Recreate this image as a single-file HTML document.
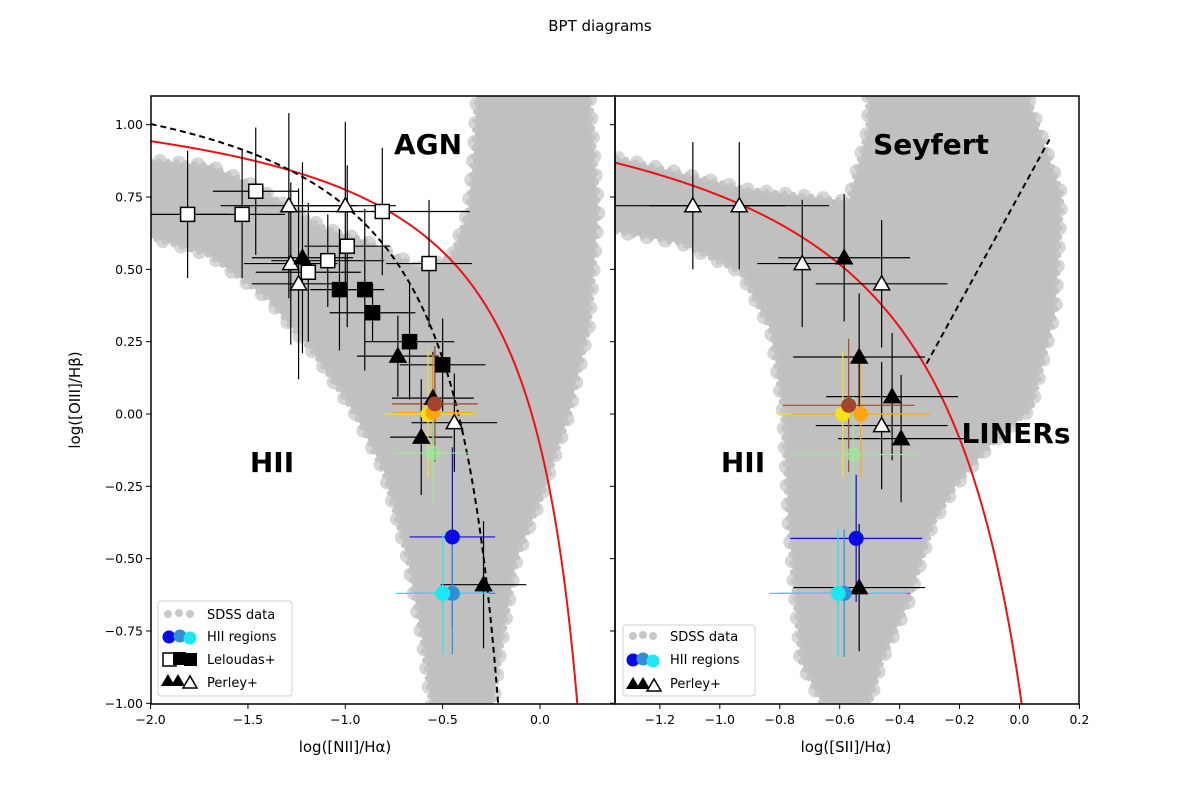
<!DOCTYPE html>
<html><head><meta charset="utf-8"><style>
html,body{margin:0;padding:0;background:#fff}
svg{display:block;font-family:"DejaVu Sans","Liberation Sans",sans-serif}
</style></head><body>
<svg id="fig" width="1200" height="790" viewBox="0 0 1200 790" xmlns="http://www.w3.org/2000/svg" style="position:absolute;left:0;top:0">
<defs>
<clipPath id="clipL"><rect x="151" y="96" width="464" height="608"/></clipPath>
<clipPath id="clipR"><rect x="615" y="96" width="464" height="608"/></clipPath>
</defs>
<text x="600" y="31" font-size="15" text-anchor="middle">BPT diagrams</text>
<g id="gL" clip-path="url(#clipL)"></g>
<g id="gR" clip-path="url(#clipR)"></g>
<g id="axes"></g>
</svg>
<script>
// ---------- data ----------
const yTicks = [1.00, 0.75, 0.50, 0.25, 0.00, -0.25, -0.50, -0.75, -1.00];
const yTickLabels = ["1.00","0.75","0.50","0.25","0.00","−0.25","−0.50","−0.75","−1.00"];
const lxTicks = [-2.0, -1.5, -1.0, -0.5, 0.0];
const lxTickLabels = ["−2.0","−1.5","−1.0","−0.5","0.0"];
const rxTicks = [-1.2, -1.0, -0.8, -0.6, -0.4, -0.2, 0.0, 0.2];
const rxTickLabels = ["−1.2","−1.0","−0.8","−0.6","−0.4","−0.2","0.0","0.2"];

// SDSS cloud outlines (data coords)
const cloudLX = [-2.05,-1.7,-1.5,-1.3,-1.1,-0.9,-0.75,-0.6,-0.45,-0.37,-0.34,-0.32,0.25,0.3,0.25,0.15,0.0,-0.12,-0.2,-0.25,-0.55,-0.6,-0.68,-0.8,-0.95,-1.15,-1.4,-1.7,-2.05];
const cloudLY = [0.88,0.86,0.8,0.72,0.64,0.6,0.55,0.5,0.55,0.7,0.9,1.15,1.15,0.7,0.3,0.0,-0.3,-0.5,-0.8,-1.05,-1.05,-0.8,-0.5,-0.2,0.0,0.2,0.4,0.55,0.62];
const cloudRX = [-1.4,-0.906,-0.57,-0.505,-0.505,0.01,0.14,0.12,0.04,-0.105,-0.215,-0.29,-0.37,-0.46,-0.5,-0.66,-0.73,-0.77,-0.79,-0.83,-0.93,-1.13,-1.4];
const cloudRY = [0.9,0.776,0.736,0.99,1.15,1.15,0.76,0.36,0.02,-0.115,-0.25,-0.38,-0.65,-0.855,-1.0,-1.0,-0.855,-0.38,0.02,0.29,0.49,0.59,0.64];

// Left panel series
const lOpenSqX = [-1.81,-1.53,-1.46,-0.81,-0.99,-1.09,-1.19,-0.57];
const lOpenSqY = [0.69,0.69,0.77,0.70,0.58,0.53,0.49,0.52];
const lOpenSqXe = [0.21,0.22,0.22,0.45,0.22,0.29,0.27,0.22];
const lOpenSqYe = [0.22,0.22,0.22,0.22,0.28,0.16,0.24,0.22];
const lFillSqX = [-1.03,-0.90,-0.86,-0.67,-0.50];
const lFillSqY = [0.43,0.43,0.35,0.25,0.17];
const lFillSqXe = [0.15,0.10,0.22,0.23,0.22];
const lFillSqYe = [0.21,0.28,0.10,0.20,0.16];
const lOpenTriX = [-1.29,-1.00,-1.28,-1.24,-0.44];
const lOpenTriY = [0.72,0.72,0.52,0.45,-0.03];
const lOpenTriXe = [0.35,0.26,0.24,0.24,0.22];
const lOpenTriYe = [0.32,0.29,0.28,0.33,0.17];
const lFillTriX = [-1.22,-0.73,-0.55,-0.61,-0.29];
const lFillTriY = [0.54,0.20,0.055,-0.08,-0.59];
const lFillTriXe = [0.26,0.21,0.21,0.16,0.22];
const lFillTriYe = [0.33,0.14,0.16,0.20,0.22];
const hiiColors = ["#0a0ae6","#2e8fd6","#1de8f2","#f7e01a","#ffa514","#a2452a","#9be89b"];
const lHiiX = [-0.45,-0.45,-0.50,-0.575,-0.55,-0.54,-0.55];
const lHiiY = [-0.425,-0.62,-0.62,0.0,0.005,0.035,-0.135];
const lHiiXe = [0.22,0.22,0.24,0.23,0.21,0.22,0.20];
const lHiiYe = [0.31,0.21,0.21,0.22,0.20,0.20,0.17];

// Right panel series
const rOpenTriX = [-1.09,-0.935,-0.725,-0.46,-0.46];
const rOpenTriY = [0.72,0.72,0.52,0.45,-0.04];
const rOpenTriXe = [0.31,0.30,0.15,0.22,0.22];
const rOpenTriYe = [0.22,0.22,0.22,0.22,0.22];
const rFillTriX = [-0.585,-0.535,-0.425,-0.395,-0.535];
const rFillTriY = [0.54,0.197,0.06,-0.085,-0.60];
const rFillTriXe = [0.22,0.22,0.22,0.21,0.22];
const rFillTriYe = [0.22,0.22,0.22,0.22,0.22];
const rHiiX = [-0.545,-0.585,-0.605,-0.59,-0.53,-0.57,-0.555];
const rHiiY = [-0.43,-0.62,-0.62,0.0,0.0,0.03,-0.14];
const rHiiXe = [0.22,0.22,0.23,0.22,0.23,0.22,0.22];
const rHiiYe = [0.22,0.22,0.22,0.22,0.22,0.23,0.20];

// ---------- axes functions ----------
const NS = "http://www.w3.org/2000/svg";
const lx = v => 540 + v * 194.7;
const rx = v => 1019.5 + v * 299.7;
const sy = v => 414 - v * 289.3;

function mk(tag, attrs, parent) {
  const e = document.createElementNS(NS, tag);
  for (const k in attrs) e.setAttribute(k, attrs[k]);
  parent.appendChild(e);
  return e;
}
const gL = document.getElementById('gL');
const gR = document.getElementById('gR');
const axes = document.getElementById('axes');

function cloud(g, X, Y, fx) {
  const pts = X.map((x, i) => fx(x).toFixed(1) + "," + sy(Y[i]).toFixed(1)).join(" ");
  const h = mk('polygon', {points: pts, fill: "none", stroke: "#d6d6d6", "stroke-width": 14, "stroke-linejoin": "round", "stroke-dasharray": "0 19", "stroke-linecap": "round", transform: "translate(0,0)"}, g);
  
  
  const p = mk('polygon', {points: pts, fill: "#c0c0c0", stroke: "#c4c4c4", "stroke-width": 6, "stroke-linejoin": "round", "stroke-dasharray": "0 9", "stroke-linecap": "round"}, g);
  
  
}
cloud(gL, cloudLX, cloudLY, lx);
cloud(gR, cloudRX, cloudRY, rx);

function curve(g, f, x0, x1, fx, color, dash, name) {
  let d = "";
  const n = 400;
  for (let i = 0; i <= n; i++) {
    const x = x0 + (x1 - x0) * i / n;
    const y = f(x);
    if (y < -1.05 || !isFinite(y)) break;
    d += (d ? "L" : "M") + fx(x).toFixed(2) + "," + sy(y).toFixed(2);
  }
  const p = mk('path', {d: d, fill: "none", stroke: color, "stroke-width": 2, "stroke-dasharray": dash || "none"}, g);
  
  
}
curve(gL, x => 0.61 / (x - 0.47) + 1.19, -2.05, 0.46, lx, "#ee1111", null, "kewley-line");
curve(gL, x => 0.61 / (x - 0.05) + 1.30, -2.05, 0.04, lx, "#000", "6,4", "kauffmann-line");
curve(gR, x => 0.72 / (x - 0.32) + 1.30, -1.4, 0.31, rx, "#ee1111", null, "kewley-sii-line");
curve(gR, x => 1.89 * x + 0.76, -0.31, 0.1, rx, "#000", "6,4", "seyfert-liner-line");

function errs(g, X, Y, XE, YE, fx, colors, name) {
  X.forEach((x, i) => {
    const c = Array.isArray(colors) ? colors[i] : colors;
    const h = mk('line', {x1: fx(x - XE[i]), x2: fx(x + XE[i]), y1: sy(Y[i]), y2: sy(Y[i]), stroke: c, "stroke-width": 1.2}, g);
    
    
    const v = mk('line', {x1: fx(x), x2: fx(x), y1: sy(Y[i] - YE[i]), y2: sy(Y[i] + YE[i]), stroke: c, "stroke-width": 1.2}, g);
    
    
  });
}
function squares(g, X, Y, fx, fill, name) {
  X.forEach((x, i) => {
    const r = mk('rect', {x: fx(x) - 7, y: sy(Y[i]) - 7, width: 14, height: 14, fill: fill, stroke: "#000", "stroke-width": 1.5}, g);
    
    
  });
}
function tris(g, X, Y, fx, fill, name) {
  X.forEach((x, i) => {
    const cx = fx(x), cy = sy(Y[i]);
    const t = mk('polygon', {points: `${cx},${cy-8} ${cx-8},${cy+6} ${cx+8},${cy+6}`, fill: fill, stroke: "#000", "stroke-width": 1.5, "stroke-linejoin": "miter"}, g);
    
    
  });
}
function circles(g, X, Y, fx, name) {
  X.forEach((x, i) => {
    const c = mk('circle', {cx: fx(x), cy: sy(Y[i]), r: 7.5, fill: hiiColors[i], "fill-opacity": i === 6 ? 0.7 : 1}, g);
    
    
  });
}

// left panel
errs(gL, lOpenSqX, lOpenSqY, lOpenSqXe, lOpenSqYe, lx, "#000", "leloudas-open");
errs(gL, lFillSqX, lFillSqY, lFillSqXe, lFillSqYe, lx, "#000", "leloudas-filled");
errs(gL, lOpenTriX, lOpenTriY, lOpenTriXe, lOpenTriYe, lx, "#000", "perley-open");
errs(gL, lFillTriX, lFillTriY, lFillTriXe, lFillTriYe, lx, "#000", "perley-filled");
errs(gL, lHiiX, lHiiY, lHiiXe, lHiiYe, lx, hiiColors, "hii-region");
squares(gL, lOpenSqX, lOpenSqY, lx, "#fff", "leloudas-open-square");
squares(gL, lFillSqX, lFillSqY, lx, "#000", "leloudas-filled-square");
tris(gL, lOpenTriX, lOpenTriY, lx, "#fff", "perley-open-triangle");
tris(gL, lFillTriX, lFillTriY, lx, "#000", "perley-filled-triangle");
circles(gL, lHiiX, lHiiY, lx, "hii-region-point");

// right panel
errs(gR, rOpenTriX, rOpenTriY, rOpenTriXe, rOpenTriYe, rx, "#000", "perley-open");
errs(gR, rFillTriX, rFillTriY, rFillTriXe, rFillTriYe, rx, "#000", "perley-filled");
errs(gR, rHiiX, rHiiY, rHiiXe, rHiiYe, rx, hiiColors, "hii-region");
tris(gR, rOpenTriX, rOpenTriY, rx, "#fff", "perley-open-triangle");
tris(gR, rFillTriX, rFillTriY, rx, "#000", "perley-filled-triangle");
circles(gR, rHiiX, rHiiY, rx, "hii-region-point");

// frames
[[151, "left-plot-frame"], [615, "right-plot-frame"]].forEach(([x0, nm]) => {
  const r = mk('rect', {x: x0, y: 96, width: 464, height: 608, fill: "none", stroke: "#000", "stroke-width": 1.5}, axes);
  
  
});

// y ticks
yTicks.forEach((v, i) => {
  const t = mk('line', {x1: 146, x2: 151, y1: sy(v), y2: sy(v), stroke: "#000", "stroke-width": 1}, axes);
  
  
  const t2 = mk('line', {x1: 610, x2: 615, y1: sy(v), y2: sy(v), stroke: "#000", "stroke-width": 1}, axes);
  
  
  const l = mk('text', {x: 143, y: sy(v) + 4.5, "font-size": 12.5, "text-anchor": "end"}, axes);
  l.textContent = yTickLabels[i];
  
  
});
function xticks(T, L, fx, name) {
  T.forEach((v, i) => {
    const t = mk('line', {x1: fx(v), x2: fx(v), y1: 704, y2: 709, stroke: "#000", "stroke-width": 1}, axes);
    
    
    const l = mk('text', {x: fx(v), y: 724, "font-size": 12.5, "text-anchor": "middle"}, axes);
    l.textContent = L[i];
    
    
  });
}
xticks(lxTicks, lxTickLabels, lx, "left-x");
xticks(rxTicks, rxTickLabels, rx, "right-x");
</script>
<svg style="position:absolute;left:0;top:0" width="1200" height="790">
<g font-family="DejaVu Sans, Liberation Sans, sans-serif">
<text x="345" y="752" font-size="15" text-anchor="middle">log([NII]/Hα)</text>
<text x="846" y="752" font-size="15" text-anchor="middle">log([SII]/Hα)</text>
<text transform="translate(80,400) rotate(-90)" font-size="15" text-anchor="middle">log([OIII]/Hβ)</text>
<text x="428" y="154" font-size="28" font-weight="bold" text-anchor="middle">AGN</text>
<text x="272" y="472" font-size="28" font-weight="bold" text-anchor="middle">HII</text>
<text x="931" y="154" font-size="28" font-weight="bold" text-anchor="middle">Seyfert</text>
<text x="743" y="472" font-size="28" font-weight="bold" text-anchor="middle">HII</text>
<text x="1016" y="443" font-size="28" font-weight="bold" text-anchor="middle">LINERs</text>

<g>
<rect x="158" y="601" width="134" height="95" rx="3" fill="#fff" fill-opacity="0.85" stroke="#d0d0d0"/>
<circle cx="168" cy="614" r="4" fill="#c8c8c8"/><circle cx="179" cy="613" r="4" fill="#c8c8c8"/><circle cx="190" cy="614" r="4" fill="#c8c8c8"/>
<text x="207" y="619" font-size="13">SDSS data</text>
<circle cx="169" cy="637" r="6.5" fill="#0a0ae6"/><circle cx="180" cy="636" r="6.5" fill="#2e8fd6"/><circle cx="190" cy="638" r="6.5" fill="#1de8f2"/>
<text x="207" y="641" font-size="13">HII regions</text>
<rect x="163" y="653" width="13" height="13" fill="#fff" stroke="#000" stroke-width="1.5"/><rect x="173" y="652" width="13" height="13" fill="#000"/><rect x="184" y="653" width="13" height="13" fill="#000"/>
<text x="207" y="664" font-size="13">Leloudas+</text>
<polygon points="168,674 161,686 175,686" fill="#000"/><polygon points="178,674 171,686 185,686" fill="#000"/><polygon points="190,676 183,688 197,688" fill="#fff" stroke="#000" stroke-width="1.5"/>
<text x="207" y="687" font-size="13">Perley+</text>
</g>
<g>
<rect x="623" y="625" width="132" height="71" rx="3" fill="#fff" fill-opacity="0.85" stroke="#d0d0d0"/>
<circle cx="633" cy="636" r="4" fill="#c8c8c8"/><circle cx="643" cy="635" r="4" fill="#c8c8c8"/><circle cx="653" cy="636" r="4" fill="#c8c8c8"/>
<text x="670" y="641" font-size="13">SDSS data</text>
<circle cx="633" cy="660" r="6.5" fill="#0a0ae6"/><circle cx="643" cy="659" r="6.5" fill="#2e8fd6"/><circle cx="653" cy="661" r="6.5" fill="#1de8f2"/>
<text x="670" y="664" font-size="13">HII regions</text>
<polygon points="633,677 626,689 640,689" fill="#000"/><polygon points="643,677 636,689 650,689" fill="#000"/><polygon points="654,679 647,691 661,691" fill="#fff" stroke="#000" stroke-width="1.5"/>
<text x="670" y="688" font-size="13">Perley+</text>
</g>
</g>
</svg>
</body></html>
